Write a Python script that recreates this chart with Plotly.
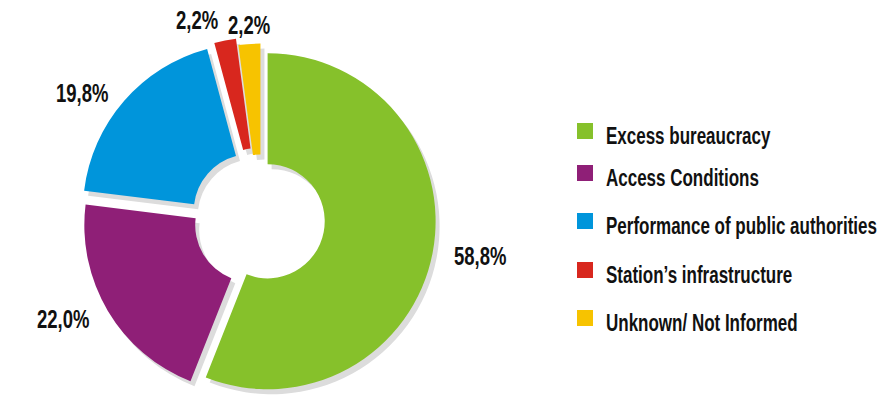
import math
import plotly.graph_objects as go

# ---- data ----
categories = ["Excess bureaucracy", "Access Conditions", "Performance of public authorities",
              "Station’s infrastructure", "Unknown/ Not Informed"]
values = [58.8, 22.0, 19.8, 2.2, 2.2]
value_labels = ["58,8%", "22,0%", "19,8%", "2,2%", "2,2%"]
colors = ["#86C12B", "#8F1F77", "#0095DB", "#D8271E", "#F7C300"]

# ---- style ----
W, H = 893, 409
FONT = "Liberation Sans, Arial, sans-serif"
TALL = 1.41          # vertical stretch applied to the bold type (narrow display face look)
pulls = [0.04, 0.06, 0.08, 0.09, 0.05]
hole = 0.34
cx, cy, r = 261, 220, 168
half = r * (1 + max(pulls))
legend_y = [131, 173, 221, 270, 318]

def clamp(v):
    return min(1.0, max(0.0, v))

def dom(xc, yc):
    return dict(x=[clamp((xc - half) / W), clamp((xc + half) / W)],
                y=[clamp(1 - (yc + half) / H), clamp(1 - (yc - half) / H)])

fig = go.Figure()
# soft grey drop shadow
fig.add_trace(go.Pie(
    labels=categories, values=values, sort=False, direction="clockwise", rotation=0,
    hole=hole, pull=pulls, domain=dom(cx + 4, cy + 5),
    marker=dict(colors=["#DCDCDC"] * len(values), line=dict(width=0)),
    textinfo="none", hoverinfo="skip", showlegend=False,
))
fig.add_trace(go.Pie(
    labels=categories, values=values, sort=False, direction="clockwise", rotation=0,
    hole=hole, pull=pulls, domain=dom(cx, cy),
    marker=dict(colors=colors, line=dict(width=0)),
    textinfo="none", showlegend=False,
))

annotations, shapes = [], []
total = sum(values)
cum = 0.0
lab_size = 18.5
for v, lab, p in zip(values, value_labels, pulls):
    th = math.radians((cum + v / 2) / total * 360)
    cum += v
    s, c = math.sin(th), math.cos(th)
    gap = 3 + 14 * abs(s)
    R = r * (1 + p) + gap
    px, py = cx + R * s, cy - R * c
    xa = "left" if s > 0.1 else ("right" if s < -0.1 else "center")
    ya = "bottom" if c > 0.8 else ("top" if c < -0.8 else "middle")
    xs = {"left": 3, "right": -4, "center": 0}[xa]
    ys = -0.16 * lab_size if ya == "middle" else 0
    annotations.append(dict(xref="paper", yref="paper", x=px / W, y=1 - py / H,
                            xanchor=xa, yanchor=ya, align=xa, xshift=xs, yshift=ys,
                            showarrow=False, text=lab,
                            font=dict(family=FONT, size=lab_size, color="#111111", weight="bold")))

# legend
leg_size = 17
for cat, col, yc in zip(categories, colors, legend_y):
    shapes.append(dict(type="rect", xref="paper", yref="paper",
                       x0=577 / W, x1=593 / W, y0=1 - (yc + 8) / H, y1=1 - (yc - 8) / H,
                       fillcolor=col, line=dict(width=0)))
    annotations.append(dict(xref="paper", yref="paper", x=604 / W, y=1 - (yc + 5) / H,
                            xanchor="left", yanchor="middle", align="left",
                            yshift=-0.16 * leg_size, showarrow=False, text=cat,
                            font=dict(family=FONT, size=leg_size, color="#111111", weight="bold")))

fig.update_layout(
    width=W, height=H, margin=dict(l=0, r=0, t=0, b=0, autoexpand=False),
    paper_bgcolor="white", plot_bgcolor="white",
    shapes=shapes, annotations=annotations, showlegend=False,
)

post = """
(function(){
  var gd = document.getElementById('{plot_id}');
  var k = %s;
  function tall(){
    gd.querySelectorAll('.annotation-text').forEach(function(t){
      if (t.getAttribute('data-tall')) return;
      var y = parseFloat(t.getAttribute('y')) || 0;
      t.setAttribute('transform', 'translate(0,' + y + ') scale(1,' + k + ') translate(0,' + (-y) + ')');
      t.setAttribute('data-tall', '1');
    });
  }
  tall();
  setTimeout(tall, 0);
  if (gd.on) gd.on('plotly_afterplot', tall);
})();
""" % TALL
fig.write_html("out.html", post_script=post)
